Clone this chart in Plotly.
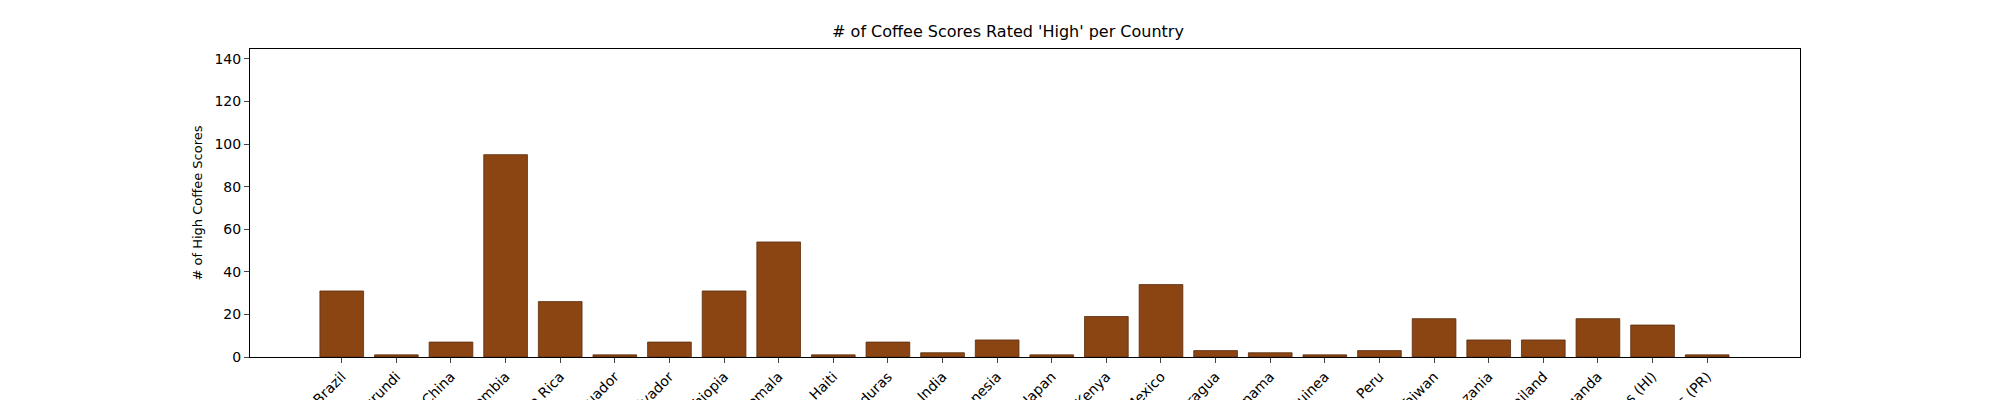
import plotly.graph_objects as go

countries = ["Brazil","Burundi","China","Colombia","Costa Rica","Ecuador","El Salvador","Ethiopia",
             "Guatemala","Haiti","Honduras","India","Indonesia","Japan","Kenya","Mexico","Nicaragua",
             "Panama","Papua New Guinea","Peru","Taiwan","Tanzania","Thailand","Uganda",
             "United States (HI)","United States (PR)"]
counts = [31,1,7,95,26,1,7,31,54,1,7,2,8,1,19,34,3,2,1,3,18,8,8,18,15,1]

fig = go.Figure(go.Bar(x=list(range(len(countries))), y=counts, width=0.8,
                       marker=dict(color="#8B4513", line=dict(color="#5a2c0c", width=0.8))))
fig.update_layout(
    width=2000, height=400, plot_bgcolor="white", paper_bgcolor="white",
    margin=dict(l=242, r=208, t=41, b=51, autoexpand=False),
    font=dict(family="DejaVu Sans", size=14, color="black"),
    title=dict(text="# of Coffee Scores Rated 'High' per Country", x=0.5, xanchor="center",
               y=1-29/400, yanchor="bottom", font=dict(size=16)),
    showlegend=False,
)
fig.update_xaxes(range=[-1.68, 26.7], tickmode="array", tickvals=list(range(len(countries))),
                 ticktext=countries, tickangle=-45, ticks="outside", ticklen=5,
                 showline=True, linecolor="black", mirror=True, showgrid=False,
                 automargin=False, zeroline=False)
fig.update_yaxes(range=[0, 144.6], tickvals=list(range(0, 141, 20)), ticks="outside", ticklen=5,
                 showline=True, linecolor="black", mirror=True, showgrid=False, zeroline=False,
                 title=dict(text="# of High Coffee Scores", standoff=8, font=dict(size=13)),
                 automargin=False)
fig.write_html("out.html")
